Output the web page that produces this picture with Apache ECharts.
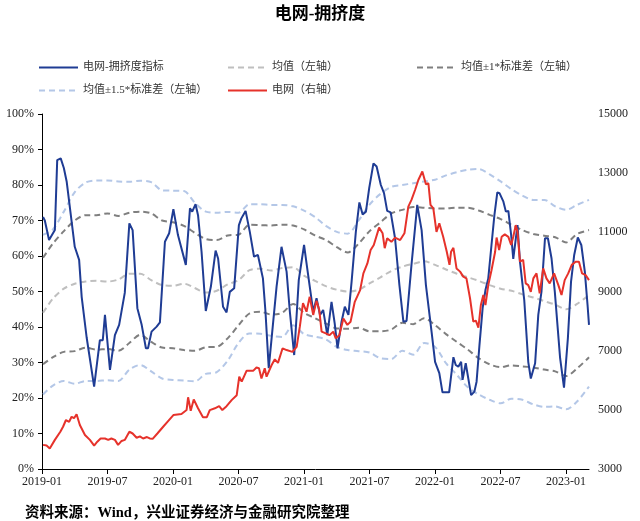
<!DOCTYPE html>
<html><head><meta charset="utf-8">
<script src="https://cdn.jsdelivr.net/npm/echarts@6/dist/echarts.min.js"></script>
<style>html,body{margin:0;padding:0;background:#fff}#c{width:640px;height:521px}</style>
</head><body><div id="c"></div>
<script>
// ---- 电网-拥挤度指标 (左轴, %) ----
const crowdDates = ['2019-01-04','2019-01-09','2019-01-21','2019-02-06','2019-02-12','2019-02-21','2019-03-01','2019-03-09','2019-04-01','2019-04-13','2019-04-20','2019-05-04','2019-05-25','2019-06-10','2019-06-18','2019-06-24','2019-07-08','2019-07-22','2019-08-03','2019-08-19','2019-09-01','2019-09-10','2019-09-23','2019-10-05','2019-10-17','2019-10-23','2019-11-02','2019-11-16','2019-11-25','2019-12-09','2019-12-21','2020-01-02','2020-01-15','2020-02-06','2020-02-17','2020-02-23','2020-03-03','2020-03-10','2020-03-20','2020-04-01','2020-04-15','2020-04-28','2020-05-05','2020-05-19','2020-05-29','2020-06-07','2020-06-19','2020-07-02','2020-07-09','2020-07-21','2020-08-02','2020-08-14','2020-08-25','2020-09-08','2020-09-15','2020-09-24','2020-10-16','2020-10-30','2020-11-13','2020-11-22','2020-12-04','2020-12-17','2021-01-01','2021-01-10','2021-01-27','2021-02-05','2021-02-14','2021-02-22','2021-03-05','2021-03-17','2021-03-26','2021-04-03','2021-04-14','2021-04-23','2021-05-03','2021-05-12','2021-05-24','2021-06-03','2021-06-12','2021-06-21','2021-06-30','2021-07-12','2021-07-21','2021-08-02','2021-08-11','2021-08-20','2021-08-30','2021-09-11','2021-09-23','2021-10-04','2021-10-13','2021-10-27','2021-11-12','2021-11-24','2021-12-06','2021-12-22','2022-01-01','2022-01-13','2022-01-22','2022-02-09','2022-02-20','2022-02-26','2022-03-05','2022-03-13','2022-03-17','2022-03-26','2022-04-10','2022-04-19','2022-04-25','2022-05-03','2022-05-12','2022-05-20','2022-05-28','2022-06-06','2022-06-14','2022-06-22','2022-06-28','2022-07-09','2022-07-16','2022-07-23','2022-07-31','2022-08-06','2022-08-18','2022-08-25','2022-09-06','2022-09-17','2022-09-24','2022-10-06','2022-10-15','2022-10-24','2022-11-03','2022-11-11','2022-11-21','2022-11-30','2022-12-15','2022-12-26','2023-01-06','2023-01-15','2023-01-24','2023-02-03','2023-02-12','2023-02-21','2023-02-28','2023-03-04'];
const crowdValues = [71,70,64.5,67.3,87,87.5,84.8,81,62.6,58.9,48.5,36.9,23.2,36.3,36.3,43.4,27.9,37.7,40.6,49.6,69.2,67.3,45.3,40.6,34,34,38.7,40.1,41.3,64,66.4,73.2,65.9,57.5,73.4,72.5,74.6,71.5,61.2,44.5,51.4,61.5,59.3,45.7,44.1,49.9,50.9,68.7,70.6,72.7,66.8,59.8,60.3,53.7,44.3,28.4,51.4,62.6,55.6,44.3,32.1,53.2,63.1,56.5,44.3,48.1,43.4,44.8,37.7,47.1,41,34,41.5,45.7,43.4,52.8,66.8,75.1,71.7,72.5,79.1,86.1,85.2,80,77.7,72.7,72.3,65,51.8,41.5,41.7,57.5,74.4,67.3,51.8,38.7,30.2,27,21.6,21.6,31.5,29.3,28.8,30.2,25.1,29.8,20.8,21.8,24.6,34.9,45.3,50.4,53.7,63.1,71.5,77.9,77.7,75.3,72.5,72.7,65.9,59.2,68.7,58.4,47.6,30.2,25.5,29.8,43.4,49.9,65,65,59.3,49.9,31.2,22.9,36.8,52.8,60.3,65.2,63.1,55.6,46.2,40.6];

// ---- 电网 (右轴) ----
const gridDates = ['2019-01-04','2019-01-14','2019-01-23','2019-02-06','2019-02-20','2019-02-27','2019-03-07','2019-03-16','2019-03-23','2019-03-30','2019-04-06','2019-04-15','2019-04-29','2019-05-13','2019-05-25','2019-06-03','2019-06-12','2019-06-24','2019-07-03','2019-07-12','2019-07-22','2019-07-31','2019-08-10','2019-08-19','2019-09-01','2019-09-10','2019-09-21','2019-09-30','2019-10-09','2019-10-20','2019-10-28','2019-11-05','2019-11-18','2019-12-04','2019-12-18','2020-01-02','2020-01-25','2020-02-08','2020-02-12','2020-02-19','2020-02-27','2020-03-10','2020-03-24','2020-04-04','2020-04-12','2020-04-26','2020-05-08','2020-05-17','2020-05-29','2020-06-12','2020-06-26','2020-07-03','2020-07-10','2020-07-24','2020-08-12','2020-08-21','2020-08-28','2020-09-04','2020-09-13','2020-09-18','2020-10-02','2020-10-11','2020-10-20','2020-11-02','2020-11-13','2020-11-29','2020-12-11','2020-12-20','2020-12-29','2021-01-08','2021-01-17','2021-01-27','2021-02-05','2021-02-12','2021-02-18','2021-03-01','2021-03-11','2021-03-22','2021-03-29','2021-04-08','2021-04-19','2021-04-30','2021-05-09','2021-05-21','2021-06-05','2021-06-14','2021-06-25','2021-07-04','2021-07-13','2021-07-28','2021-08-07','2021-08-13','2021-08-20','2021-09-01','2021-09-11','2021-09-25','2021-10-07','2021-10-18','2021-10-27','2021-11-06','2021-11-15','2021-11-26','2021-12-06','2021-12-13','2021-12-19','2021-12-27','2022-01-05','2022-01-13','2022-01-24','2022-02-03','2022-02-10','2022-02-14','2022-02-20','2022-02-28','2022-03-10','2022-03-19','2022-03-28','2022-04-07','2022-04-16','2022-04-23','2022-04-30','2022-05-07','2022-05-14','2022-05-20','2022-05-28','2022-06-06','2022-06-16','2022-06-20','2022-06-27','2022-07-04','2022-07-13','2022-07-23','2022-07-31','2022-08-06','2022-08-13','2022-08-18','2022-08-25','2022-09-03','2022-09-10','2022-09-17','2022-09-24','2022-10-01','2022-10-10','2022-10-19','2022-10-29','2022-11-07','2022-11-16','2022-11-28','2022-12-10','2022-12-19','2022-12-28','2023-01-07','2023-01-17','2023-01-28','2023-02-06','2023-02-14','2023-02-23','2023-03-04'];
const gridValues = [3816,3792,3696,3984,4260,4428,4656,4596,4764,4716,4848,4488,4152,3984,3792,3924,4032,4032,3984,4032,3984,3816,3948,3984,4260,4200,4056,4104,4032,4080,4032,4020,4200,4428,4620,4824,4860,4992,5424,4968,5352,5052,4752,4752,4992,5052,5124,4992,5124,5328,5496,6120,5952,6324,6324,6432,6408,6060,6408,6120,6516,6708,6588,7080,7020,6960,7128,7812,8604,8316,8820,8208,8688,8376,7644,7584,7524,7644,7416,7524,8088,7872,7980,8652,9048,9612,9948,10404,10572,11160,10968,10464,10800,10680,10824,10740,10968,11868,12096,12432,12768,13056,12624,12660,11928,11808,11016,11304,10848,10344,9900,10344,10476,9780,9672,9504,9444,8772,7980,8016,7776,8544,8880,8544,9216,9720,10344,10824,10404,10848,10932,10848,10572,10848,11244,11016,10008,10068,9276,9216,8988,9444,9612,8940,9780,9444,9276,9612,9216,8880,9384,9612,9900,10008,10008,9612,9552,9384];

// ---- 均值与标准差带 (左轴, %) ----
const bandDates = ['2019-01-04','2019-02-01','2019-03-01','2019-04-01','2019-05-01','2019-06-01','2019-07-01','2019-08-01','2019-09-01','2019-10-01','2019-11-01','2019-12-01','2020-01-01','2020-02-01','2020-03-01','2020-04-01','2020-05-01','2020-06-01','2020-07-01','2020-08-01','2020-09-01','2020-10-01','2020-11-01','2020-12-01','2021-01-01','2021-02-01','2021-03-01','2021-04-01','2021-05-01','2021-06-01','2021-07-01','2021-08-01','2021-09-01','2021-10-01','2021-11-01','2021-12-01','2022-01-01','2022-02-01','2022-03-01','2022-04-01','2022-05-01','2022-06-01','2022-07-01','2022-08-01','2022-09-01','2022-10-01','2022-11-01','2022-12-01','2023-01-01','2023-02-01','2023-03-04'];
const meanValues   = [44,48,50.8,52.2,52.8,53,52.8,53.4,55,55,53.2,51.8,51.6,52.2,51,49.7,50.2,52,53.2,56,56.4,55.9,56.6,56.8,54.5,53,51.5,50.5,50,50.5,52.3,54,55.8,57,57.8,58.5,57.5,56.2,55,54,53,51.8,50.8,50.2,49.2,48.3,47.3,46.3,45,46.5,49];
const upper1Values = [59.5,63.5,67,70,71.5,71.5,72,71.3,72.2,72.5,72,70,69.5,68.5,66.5,64.8,64.5,65.8,66,68.8,68.7,68.6,68.8,68.6,67.5,65.8,64.5,62.5,61,63.5,67,69.5,72,73,73.8,73.6,73.4,73.4,73.6,73.6,72.8,71.6,70.4,68.8,67.3,66.2,65.7,65.3,63.8,66.2,67.3];
const lower1Values = [29.5,31.5,33,33.2,34.2,33.6,33.8,33.3,35.5,37.8,35.8,34.2,34,33.5,33.3,34.3,34.4,36.8,40.5,43.8,44.3,43.5,44,46.5,44,42.5,41,39.6,39.5,39.8,38.8,38.8,39.3,41.2,40.8,42.5,40.5,38,35.8,33.6,31.2,29.5,28.7,29.2,28.9,28.6,28,27.5,26.2,28.3,31.5];
const upper15Values = [66,67.5,72.5,78,80.7,81.3,81.3,81,80.9,81.2,80.8,78.5,78.4,78.3,75,72.5,72.2,72.4,72.2,74.6,74.6,74.4,74.4,74,72.8,71,68.5,66.8,66.3,70,74.5,77.5,79.5,80,80.5,81,81.5,82.7,83.6,84.3,84.5,83,81,78.8,77,75.8,75.8,74,73,74.4,75.8];
const lower15Values = [21,23.5,24.8,24,24.8,24.8,25,24.8,28,29.3,27.5,25.5,25.1,24.9,24.7,26.8,27.3,30.5,35.5,38.2,38.1,37.5,37.2,40.5,38,37.3,36.5,34.4,33.5,33.2,32.8,31.2,31,33.3,32.2,35.5,34.4,29.8,26.5,23,21,19.5,18.5,19.8,19.5,18.2,17.5,17.6,16.8,19,23.2];

const names = ['电网-拥挤度指标','均值（左轴）','均值±1*标准差（左轴）','均值±1.5*标准差（左轴）','电网（右轴）'];

function toMonth(s){
  const p = s.split('-').map(Number);
  const dim = new Date(p[0], p[1], 0).getDate();
  return (p[0]-2019)*12 + (p[1]-1) + (p[2]-1)/dim;
}
function pairs(dates, vals){ return dates.map((d,i)=>[toMonth(d), vals[i]]); }

const SERIF = "'Liberation Serif','Noto Sans CJK SC',serif";
const CJK = "'Liberation Serif','Noto Sans CJK SC',sans-serif";
const chart = echarts.init(document.getElementById('c'), null, {renderer:'canvas'});

function band(name, vals, color, width){
  return {name, type:'line', yAxisIndex:0, data:pairs(bandDates, vals), symbol:'none', showSymbol:false,
    smooth:0.3, lineStyle:{color, width, type:[6,4]}, itemStyle:{color}, z:2};
}
function legendItem(name, left, top){
  return {data:[name], left, top, itemWidth:39, itemHeight:12, padding:0,
    itemStyle:{opacity:0},
    textStyle:{fontSize:11, color:'#333', fontFamily:CJK}};
}

chart.setOption({
  animation:false,
  backgroundColor:'#fff',
  title:[
    {text:'电网-拥挤度', left:'center', top:1, textStyle:{fontSize:17, fontWeight:'bold', color:'#000', fontFamily:CJK}},
    {text:'资料来源：Wind，兴业证券经济与金融研究院整理', left:20, top:501, textStyle:{fontSize:14.5, fontWeight:'bold', color:'#000', fontFamily:CJK}}
  ],
  legend:[
    legendItem(names[0], 38, 62),
    legendItem(names[1], 227, 62),
    legendItem(names[2], 416, 62),
    legendItem(names[3], 38, 85),
    legendItem(names[4], 227, 85)
  ],
  grid:{left:42, right:51, top:114, bottom:52, containLabel:false, outerBoundsMode:'none'},
  xAxis:{
    type:'value', min:0, max:toMonth('2023-03-04'), interval:6,
    axisLine:{show:true, onZero:false, lineStyle:{color:'#000', width:1}},
    axisTick:{show:true, length:5, lineStyle:{color:'#000'}},
    splitLine:{show:false},
    axisLabel:{show:true, showMaxLabel:false, margin:7, color:'#222', fontSize:12, fontFamily:SERIF,
      formatter:function(v){
        const r = Math.round(v);
        if (Math.abs(v-r) > 1e-6 || r % 6 !== 0) return '';
        const y = 2019 + Math.floor(r/12), m = r % 12 + 1;
        return y + '-' + (m < 10 ? '0' + m : m);
      }}
  },
  yAxis:[
    {type:'value', min:0, max:100, interval:10, position:'left',
      axisLine:{show:true, lineStyle:{color:'#000', width:1}},
      axisTick:{show:true, length:4, lineStyle:{color:'#000'}},
      splitLine:{show:false},
      axisLabel:{formatter:'{value}%', margin:8, color:'#222', fontSize:12, fontFamily:SERIF}},
    {type:'value', min:3000, max:15000, interval:2000, position:'right',
      axisLine:{show:false}, axisTick:{show:false}, splitLine:{show:false},
      axisLabel:{margin:9, color:'#222', fontSize:12, fontFamily:SERIF, formatter:function(v){return String(v);}}}
  ],
  series:[
    band(names[3], upper15Values, '#b4c7e7', 2),
    band(names[3], lower15Values, '#b4c7e7', 2),
    band(names[2], upper1Values, '#7f7f7f', 2),
    band(names[2], lower1Values, '#7f7f7f', 2),
    band(names[1], meanValues, '#bfbfbf', 2),
    {name:names[0], type:'line', yAxisIndex:0, data:pairs(crowdDates, crowdValues), symbol:'none', showSymbol:false,
      lineStyle:{color:'#1f3c94', width:2}, itemStyle:{color:'#1f3c94'}, z:3},
    {name:names[4], type:'line', yAxisIndex:1, data:pairs(gridDates, gridValues), symbol:'none', showSymbol:false,
      lineStyle:{color:'#e6322b', width:2}, itemStyle:{color:'#e6322b'}, z:4}
  ]
});
</script>
</body></html>
